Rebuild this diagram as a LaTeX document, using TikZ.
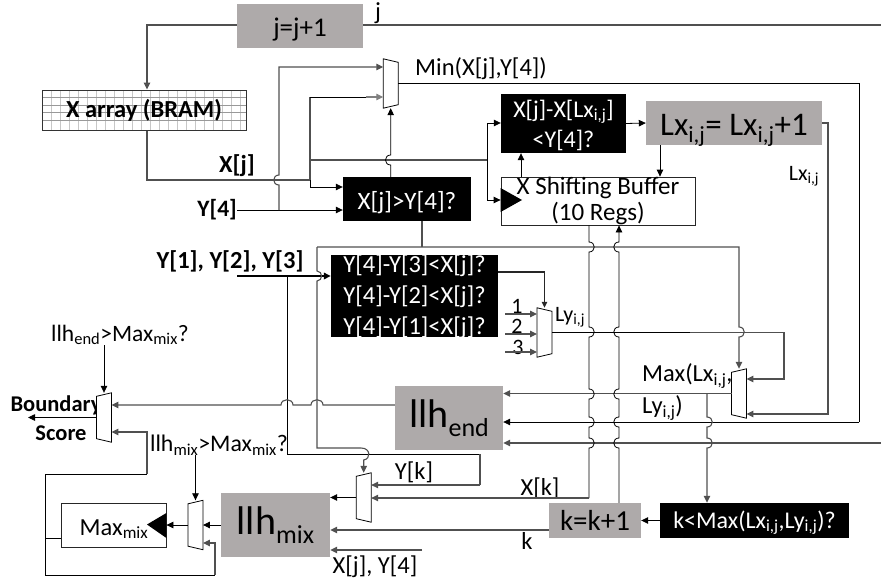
\documentclass[tikz,border=0pt]{standalone}
\usepackage{fontspec}
\setmainfont{Carlito}
\usetikzlibrary{arrows.meta}
\definecolor{boxgray}{HTML}{AEAAAA}
\definecolor{linegray}{HTML}{505050}
\newcommand\fsz[1]{\fontsize{#1}{#1}\selectfont}
\newcommand\lowtxt[2]{\raisebox{-0.45ex}{\fontsize{#1}{#1}\selectfont #2}}
\newcommand\subij{\textsubscript{i,j}}
\newcommand\basel[2]{\raisebox{-#1pt}[0pt][0pt]{#2}}
% vertical line, travelling towards larger y, jumping at (x,y)
\newcommand\vj[3]{-- (#1,#2-5) .. controls (#1+#3,#2-5) and (#1+#3,#2+5) .. (#1,#2+5)}
% horizontal line, travelling left, jumping at (x,y)
\newcommand\hj[3]{-- (#1+6,#2) .. controls (#1+6,#2+#3) and (#1-6,#2+#3) .. (#1-6,#2)}
\newcommand\muxL[3]{\node[muxbox] (#1) at (#2,#3) {};
  \draw[muxline] (#1.north west) -- ([yshift=-3.5pt]#1.north east) -- ([yshift=3.5pt]#1.south east) -- (#1.south west) -- cycle;}
\newcommand\muxR[3]{\node[muxbox] (#1) at (#2,#3) {};
  \draw[muxline] ([yshift=-3.5pt]#1.north west) -- (#1.north east) -- (#1.south east) -- ([yshift=3.5pt]#1.south west) -- cycle;}
\tikzset{
  muxbox/.style={rectangle,inner sep=0pt,minimum width=14.5pt,minimum height=49pt},
  muxline/.style={draw=black,fill=white,line width=0.8pt},
  graybox/.style={rectangle,fill=boxgray,inner sep=0pt,text=black,align=center},
  blackbox/.style={rectangle,fill=black,inner sep=0pt,text=white,align=center},
  whitetxt/.style={inner sep=0pt,text=white,align=center},
  lab/.style={inner sep=0pt,text=black,font=\fsz{24.5}},
  blab/.style={inner sep=0pt,text=black,font=\fsz{24.5}\bfseries},
  bl/.style={draw=black,line width=0.8pt},
  gl/.style={draw=linegray,line width=1.1pt},
  tip/.style={-{Triangle[length=7pt,width=6.5pt]}},
  ptip/.style={{Triangle[length=7pt,width=6.5pt]}-},
  gridv/.style={draw=black!22,line width=0.5pt},
  gridh/.style={draw=black!40,line width=0.5pt},
}
\begin{document}
\begin{tikzpicture}[x=1pt,y=-1pt]
\useasboundingbox (0,0) rectangle (881,581);
% nodes
\node[graybox,minimum width=126pt,minimum height=44pt,font=\fsz{27}] (jbox) at (300,26) {\basel{10}{j=j+1}};
\foreach \x in {51,60,...,240} \draw[gridv] (\x,90) -- (\x,130);
\foreach \y in {97.5,105,...,127} \draw[gridh] (42,\y) -- (246,\y);
\node[rectangle,draw=black!80,line width=1pt,minimum width=204pt,minimum height=40pt,inner sep=0pt,font=\fsz{24.5}\bfseries] (bram) at (144,110) {X array (BRAM)};
\node[blackbox,minimum width=128pt,minimum height=44pt,font=\fsz{25}] (xgt) at (407,199) {\basel{10}{X[j]>Y[4]?}};
\node[blackbox,minimum width=125pt,minimum height=59pt] (xlx) at (563.5,123.5) {};
\node[whitetxt,font=\fontsize{24}{30}\selectfont] (xlxtxt) at (563.5,125) {X[j]-X[Lx\subij]\\<Y[4]?};
\node[graybox,minimum width=176pt,minimum height=44pt,font=\fsz{33}] (lxbox) at (734,123) {\basel{12}{Lx\subij= Lx\subij+1}};
\node[rectangle,draw=black!85,line width=0.8pt,inner sep=0pt,minimum width=194pt,minimum height=48pt,align=center,font=\fontsize{25}{26}\selectfont] (buf) at (598,201) {X Shifting Buffer\\(10 Regs)};
\fill[black] (buf.north west |- 0,188) -- (522,200) -- (buf.north west |- 0,212) -- cycle;
\node[blackbox,minimum width=167pt,minimum height=82pt] (ybox) at (414.5,296) {};
\node[whitetxt,font=\fontsize{24.5}{31}\selectfont] (yboxtxt) at (414.5,297) {Y[4]-Y[3]<X[j]?\\Y[4]-Y[2]<X[j]?\\Y[4]-Y[1]<X[j]?};
\node[graybox,minimum width=108pt,minimum height=64pt] (llhend) at (449,418) {\fsz{40}llh\lowtxt{26}{end}};
\node[graybox,minimum width=109pt,minimum height=64pt] (llhmix) at (275.5,525) {\fsz{40}llh\lowtxt{26}{mix}};
\node[graybox,minimum width=92pt,minimum height=35pt,font=\fsz{29}] (kbox) at (595,520.5) {\basel{10}{k=k+1}};
\node[blackbox,minimum width=189pt,minimum height=35pt,font=\fsz{24}] (kmax) at (754.5,520.5) {\basel{7.5}{k<Max(Lx\subij,Ly\subij)?}};
\node[rectangle,draw=black!85,line width=0.8pt,inner sep=0pt,minimum width=105pt,minimum height=44pt] (maxbox) at (113.5,525) {};
\node[lab,anchor=center] (maxlab) at (114,529) {Max\textsubscript{mix}};
\fill[black] (maxbox.east |- 0,513) -- (147,524.5) -- (maxbox.east |- 0,538) -- cycle;
% labels
\node[lab] (ljj) at (378,13) {j};
\node[lab,anchor=west] (lmin) at (415,69) {Min(X[j],Y[4])};
\node[blab] (lxj) at (237,166) {X[j]};
\node[blab,font=\fsz{23.5}\bfseries,anchor=east] (ly4) at (237,210) {Y[4]};
\node[blab] (ly123) at (230,261) {Y[1], Y[2], Y[3]};
\node[lab,font=\fsz{22}] (llx) at (804,176) {Lx\subij};
\node[lab,font=\fsz{22}] (lly) at (570,317) {Ly\subij};
\node[lab,font=\fsz{22}] (l1) at (517,306) {1};
\node[lab,font=\fsz{22}] (l2) at (517,326) {2};
\node[lab,font=\fsz{22}] (l3) at (518,347) {3};
\node[lab,anchor=west] (lmaxa) at (642,376) {Max(Lx\subij,};
\node[lab,anchor=west] (lmaxb) at (642,408) {Ly\subij)};
\node[lab] (lyk) at (414,472) {Y[k]};
\node[lab] (lxk) at (540,488) {X[k]};
\node[lab] (lk) at (527,541) {k};
\node[lab] (lxy) at (375,567) {X[j], Y[4]};
\node[lab,font=\fsz{23.5}] (lend) at (120,335) {llh\textsubscript{end}>Max\textsubscript{mix}?};
\node[lab,font=\fsz{23.8}] (lmix) at (219,445) {llh\textsubscript{mix}>Max\textsubscript{mix}?};
\node[blab,font=\fsz{22.5}\bfseries] (lbnd) at (56,405) {Boundary};
\node[blab,font=\fsz{22.5}\bfseries] (lscr) at (61,433) {Score};
% connectors
\draw[gl,tip] (jbox.west |- 0,25) -- (147,25) -- (147,0 |- bram.north);
\draw[gl] (jbox.east |- 0,25) -- (881,25);
\draw[gl] (bram.south -| 147,0) -- (147,180) -- (310,180);
\draw[gl] (310,180) -- (310,97);
\draw[bl] (310,97) -- (366,97);
\draw[bl,tip] (310,180) |- (xgt.west |- 0,187);
\draw[gl] (310,160) -- (487,160);
\draw[bl,tip] (ly4.east) -- (xgt.west |- ly4.east);
\draw[bl] (487,123) -- (487,200);
\draw[bl,tip] (487,123) -- (xlx.west |- 0,123);
\draw[bl,tip] (487,200) -- (buf.west |- 0,200);
\draw[bl,tip] (xlx.east) -- (lxbox.west);
\draw[bl,tip] (buf.north -| 521,0) -- (xlx.south -| 521,0);
\draw[bl,tip] (lxbox.south -| 660,0) -- (buf.north -| 660,0);
\draw[gl] (xgt.south -| 422,0) -- (422,247);
\draw[line width=1.6pt,draw=black,tip] (237,276) -- (ybox.west |- 0,276);
\draw[bl] (287,276) -- (287,454) -- (480,454);
% muxes
\muxL{m1}{390.7}{83.5}
\muxL{m2}{544.5}{332.5}
\muxR{m3}{363.7}{497.5}
\muxR{m4}{739}{393.5}
\muxR{m0}{104}{417.5}
\muxR{m5}{195.5}{525}
% mux connectors
\draw[line width=1.2pt,draw=black!85,-{Triangle[length=6pt,width=5.5pt]}] (ybox.east |- 0,272) -- (m2.north |- 0,272) -- (m2.north);
\draw[gl,ptip] (m1.west |- 0,67) -- (279,67) \vj{279}{180}{-7} -- (279,0 |- ly4.east);
\draw[draw=black!50,line width=1.1pt,tip] (366,97) -- (m1.west |- 0,97);
\draw[bl,ptip] (m1.south) \vj{390.7}{160}{-7} -- (390.7,0 |- xgt.north);
\draw[bl] (m1.east) -- (859,0 |- m1.east) -- (859,422);
\draw[bl,tip] (859,422) -- (llhend.east |- 0,422);
\draw[gl,tip] (881,443) -- (llhend.east |- 0,443);
\draw[gl,tip] (317,247) \vj{317}{276}{6} -- (317,448) -- (361,448) .. controls (371,448) and (371,459) .. (363.7,460) -- (m3.north);
\draw[gl,tip] (317,247) -- (739,247) \vj{739}{332}{7} -- (m4.north);
\draw[gl] (480,454) -- (480,485);
\draw[gl,tip] (480,485) -- (m3.east |- 0,485);
\foreach \y in {314,334,352} \draw[gl,tip] (505,\y) -- (m2.west |- 0,\y);
\draw[bl] (m2.east) -- (690,0 |- m2.east);
\draw[gl,tip] (690,0 |- m2.east) -- (784,0 |- m2.east) -- (784,379) -- (m4.east |- 0,379);
\draw[gl,tip] (lxbox.east) -- (828,0 |- lxbox.east) -- (828,414) -- (m4.east |- 0,414);
\draw[gl,tip] (m4.west) -- (llhend.east |- m4.west);
\draw[gl,tip] (707,394) \vj{707}{422}{7} \vj{707}{443}{7} -- (707,0 |- kmax.north);
\draw[bl] (buf.south -| 589,0) \vj{589}{247}{7} \vj{589}{332}{7} \vj{589}{394}{7} \vj{589}{422}{7} \vj{589}{443}{7} -- (589,498);
\draw[gl,tip] (589,498) -- (m3.east |- 0,498);
\draw[bl,ptip] (buf.south -| 619,0) \vj{619}{247}{-7} \vj{619}{332}{-7} \vj{619}{394}{-7} \vj{619}{422}{-7} \vj{619}{443}{-7} -- (619,0 |- kbox.north);
\draw[bl,tip] (kmax.west) -- (kbox.east);
\draw[gl,tip] (kbox.west |- 0,530) -- (llhmix.east |- 0,530);
\draw[bl,tip] (m3.west) -- (llhmix.east |- m3.west);
\draw[gl,tip] (422,550) -- (llhmix.east |- 0,550);
\draw[bl,tip] (llhmix.west) -- (m5.east);
\draw[bl,tip] (m5.west) -- (maxbox.east);
\draw[gl,tip] (llhend.west |- 0,405) \hj{317}{405}{-7} \hj{287}{405}{-7} -- (m0.east |- 0,405);
\draw[bl,tip] (m0.west) -- (28,0 |- m0.west);
\draw[bl,tip] (lend.south -| m0.north) -- (m0.north);
\draw[bl,tip] (lmix.south -| m5.north) -- (m5.north);
\draw[gl,ptip] (m0.east |- 0,432) -- (147,432) -- (147,474);
\draw[bl] (147,474) -- (45,474) -- (45,575) -- (215,575);
\draw[gl,tip] (215,575) -- (215,543) -- (m5.east |- 0,543);
\draw[bl] (45,538) -- (maxbox.west |- 0,538);
\end{tikzpicture}
\end{document}
